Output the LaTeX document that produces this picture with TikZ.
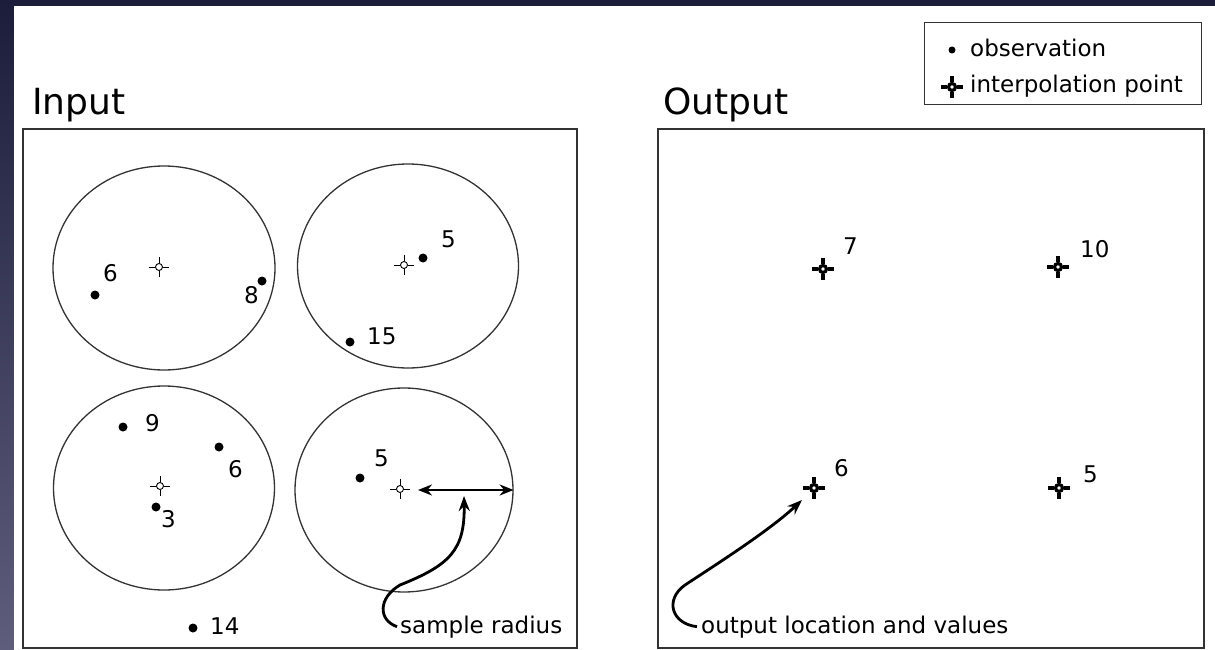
\documentclass[tikz,border=0pt]{standalone}
\usepackage{fontspec}
\setmainfont{DejaVu Sans}
\usepackage{xcolor}
\usetikzlibrary{arrows.meta,shapes.geometric}
\definecolor{clrBgTop}{HTML}{1C1D3A}
\definecolor{clrBgBot}{HTML}{5E5E7C}
\definecolor{clrLine}{HTML}{333333}
\tikzset{
  panel/.style={draw=clrLine, line width=1.3pt},
  ring/.style={ellipse, draw=clrLine, line width=1.3pt, inner sep=0pt},
  obs/.style={circle, fill=black, inner sep=0pt, minimum size=9pt},
  xhair/.style={circle, draw=black, fill=white, inner sep=0pt,
    minimum size=7pt, line width=#1,
    append after command={
      (\tikzlastnode.north) edge[line width=#1] ++(0,-6)
      (\tikzlastnode.south) edge[line width=#1] ++(0,6)
      (\tikzlastnode.east)  edge[line width=#1] ++(6,0)
      (\tikzlastnode.west)  edge[line width=#1] ++(-6,0)}},
  xhair/.default=0.9pt,
  xhairbold/.style={xhair=3.2pt, minimum size=7pt},
  val/.style={font=\fontsize{23}{26}\selectfont, inner sep=0pt, anchor=south west},
  note/.style={font=\fontsize{23}{26}\selectfont, inner sep=0pt, anchor=base west},
  ttl/.style={font=\fontsize{36}{40}\selectfont, inner sep=0pt, anchor=base west},
  ptr/.style={-{Stealth[length=15pt,width=11pt]}, line width=2.8pt},
  span/.style={{Stealth[length=14pt,width=11pt]}-{Stealth[length=14pt,width=11pt]},
    line width=2.6pt},
}

\begin{document}
\begin{tikzpicture}[x=1pt, y=-1pt]

% ── frame ──────────────────────────────────────────────────────────────────
\useasboundingbox (0,0) rectangle (1215,650);
\shade[top color=clrBgTop, bottom color=clrBgBot] (0,0) rectangle (1215,650);
\fill[white] (14,6) rectangle (1215,650);

% ── titles and panels ──────────────────────────────────────────────────────
\node[ttl] (tIn) at (32,115) {Input};
\node[ttl] (tOut) at (663,115) {Output};
\draw[panel] (23,129) rectangle (577,648);
\draw[panel] (658,129) rectangle (1204,648);

% ── legend ─────────────────────────────────────────────────────────────────
\draw[panel, line width=1pt] (924,23) rectangle (1201,105);
\node[obs, minimum size=7pt] (kObs) at (952,50) {};
\node[note] (kObsTxt) at (970,57) {observation};
\node[xhairbold] (kPt) at (952,87) {};
\node[note] (kPtTxt) at (970,93) {interpolation point};

% ── input: sample circles ──────────────────────────────────────────────────
\node[ring, minimum width=222pt, minimum height=204pt] (cTL) at (164,268) {};
\node[ring, minimum width=221pt, minimum height=204pt] (cTR) at (408,266) {};
\node[ring, minimum width=221pt, minimum height=204pt] (cBL) at (164,488) {};
\node[ring, minimum width=218pt, minimum height=204pt] (cBR) at (404,490) {};

% top left
\node[xhair] (xTL) at (159,267) {};
\node[obs] (dTLa) at (95,295) {};   \node[val] (vTLa) at (103,282) {6};
\node[obs] (dTLb) at (262,281) {};  \node[val] (vTLb) at (244,304) {8};

% top right
\node[xhair] (xTR) at (404,265) {};
\node[obs] (dTRa) at (423,258) {};  \node[val] (vTRa) at (441,248) {5};
\node[obs] (dTRb) at (350,342) {};  \node[val] (vTRb) at (367,345) {15};

% bottom left
\node[xhair] (xBL) at (160,486) {};
\node[obs] (dBLa) at (123,427) {};  \node[val] (vBLa) at (145,432) {9};
\node[obs] (dBLb) at (219,447) {};  \node[val] (vBLb) at (228,478) {6};
\node[obs] (dBLc) at (156,507) {};  \node[val] (vBLc) at (161,528) {3};

% bottom right
\node[xhair] (xBR) at (400,489) {};
\node[obs] (dBRa) at (360,478) {};  \node[val] (vBRa) at (374,467) {5};

% outside every circle
\node[obs] (dOut) at (193,628) {};  \node[val] (vOut) at (210,635) {14};

% sample radius
\coordinate (rStart) at (418,490);
\coordinate (rTip) at (464,496);
\draw[span] (rStart) -- (cBR.east);
\node[note] (lRadius) at (400,633) {sample radius};
\draw[ptr] ([xshift=-3pt]lRadius.west) .. controls (378,620) and (378,598) .. (400,585)
  .. controls (450,565) and (465,550) .. (rTip);

% ── output: interpolated values ────────────────────────────────────────────
\node[xhairbold] (oTL) at (823,269) {};   \node[val] (wTL) at (843,255) {7};
\node[xhairbold] (oTR) at (1058,267) {};  \node[val] (wTR) at (1080,258) {10};
\node[xhairbold] (oBL) at (814,488) {};   \node[val] (wBL) at (834,477) {6};
\node[xhairbold] (oBR) at (1059,488) {};  \node[val] (wBR) at (1083,483) {5};

\node[note] (lOut) at (701,633) {output location and values};
\draw[ptr] ([xshift=-4pt]lOut.west) .. controls (672,624) and (664,600) .. (685,585)
  .. controls (720,562) and (770,530) .. ([xshift=-12pt,yshift=-12pt]oBL.center);

\end{tikzpicture}
\end{document}
